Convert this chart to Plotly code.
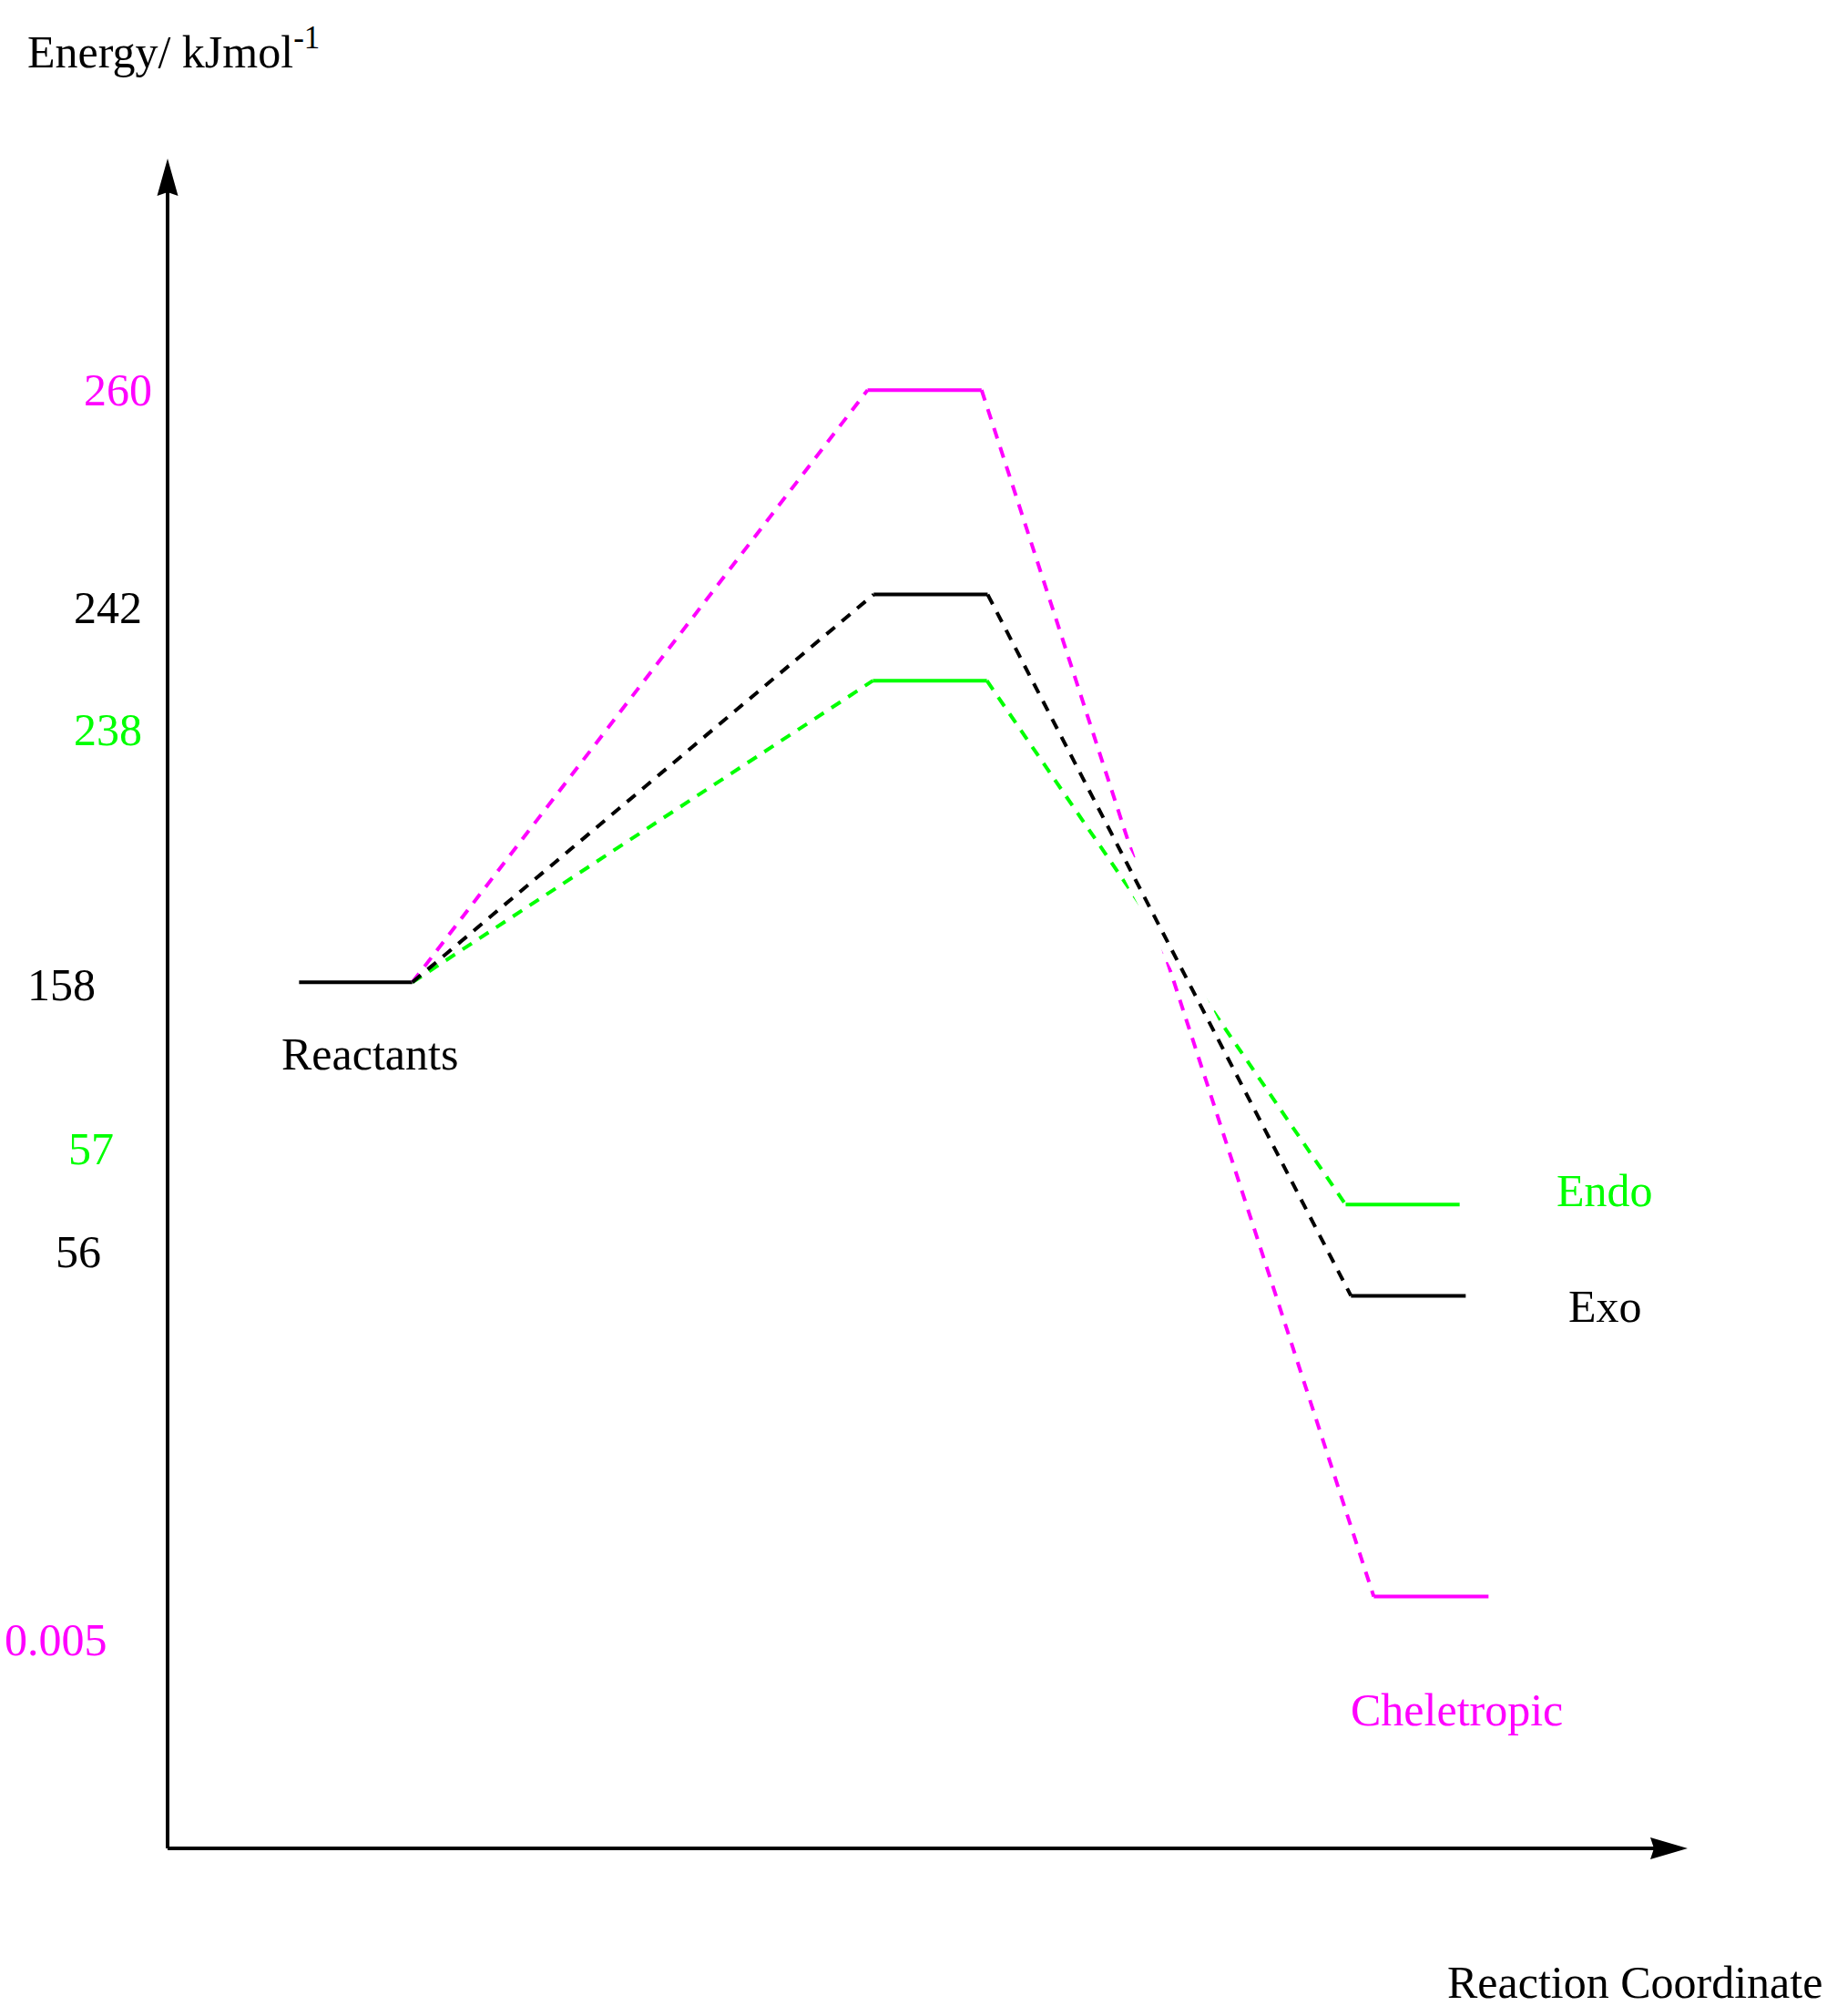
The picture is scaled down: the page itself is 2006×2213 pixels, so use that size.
import plotly.graph_objects as go

# ---------------- data ----------------
pathways = ["Endo", "Exo", "Cheletropic"]
path_colors = ["#00FF00", "#000000", "#FF00FF"]

reactant_name = "Reactants"
reactant_energy = "158"
ts_energy = ["238", "242", "260"]
product_energy = ["57", "56", "0.005"]

# diagram level heights (axis units: 0 = reaction-coordinate axis, 100 = arrow tip)
reactant_level = 51.25
ts_level = [69.1, 74.2, 86.3]
product_level = [38.1, 32.7, 14.9]

# horizontal extents of the levels along the reaction coordinate (0..100)
reactant_x = [8.65, 16.1]
ts_x = [[46.4, 53.9], [46.45, 53.95], [46.05, 53.55]]
product_x = [[77.5, 85.0], [77.85, 85.4], [79.35, 86.9]]

y_title = "Energy/ kJmol<sup>-1</sup>"
x_title = "Reaction Coordinate"

# ---------------- layout / style ----------------
W, H = 2006, 2213
X_RANGE = [-11.025, 109.167]
Y_RANGE = [-9.919, 109.38]
px_x = W / (X_RANGE[1] - X_RANGE[0])   # pixels per x unit
px_y = H / (Y_RANGE[1] - Y_RANGE[0])   # pixels per y unit
FONT = "Liberation Serif, Times New Roman, serif"
FS = 50
LW = 4
DASH = "12px,10px"

# label placement (axis units)
energy_label_pos = {          # (right edge x, centre y)
    "260": (-0.90, 86.3), "242": (-1.56, 73.4), "238": (-1.56, 66.2),
    "158": (-4.61, 51.1), "57": (-3.42, 41.4), "56": (-4.25, 35.3),
    "0.005": (-3.83, 12.35),
}
energy_label_color = {"260": "#FF00FF", "242": "#000000", "238": "#00FF00",
                      "158": "#000000", "57": "#00FF00", "56": "#000000",
                      "0.005": "#FF00FF"}
name_label_pos = {"Reactants": (13.3, 47.0), "Endo": (94.55, 38.9),
                  "Exo": (94.55, 32.1), "Cheletropic": (84.84, 8.2)}

fig = go.Figure()

def seg(xs, ys, color, dash=None, width=LW):
    fig.add_trace(go.Scatter(x=xs, y=ys, mode="lines", hoverinfo="skip",
                             line=dict(color=color, width=width, dash=dash),
                             cliponaxis=False, showlegend=False))

# axes (lines)
seg([0, 0], [0, 98.0], "black")
seg([0, 98.0], [0, 0], "black")

# reactant level
seg(reactant_x, [reactant_level] * 2, "black")

# draw order: green, magenta, then black on top with white knock-out
order = [0, 2, 1]
for i in order:
    c = path_colors[i]
    if i == 1:
        seg([ts_x[i][1], product_x[i][0]], [ts_level[i], product_level[i]],
            "white", width=20)
    # ascending dashed
    seg([reactant_x[1], ts_x[i][0]], [reactant_level, ts_level[i]], c, DASH)
    # TS level
    seg(ts_x[i], [ts_level[i]] * 2, c)
    # descending dashed
    seg([ts_x[i][1], product_x[i][0]], [ts_level[i], product_level[i]], c, DASH)
    # product level
    seg(product_x[i], [product_level[i]] * 2, c)

# arrow heads
hl_y, hw_x, notch_y = 41 / px_y, 11.5 / px_x, 4 / px_y
hl_x, hw_y, notch_x = 41 / px_x, 12 / px_y, 4 / px_x
shapes = [
    dict(type="path", xref="x", yref="y", fillcolor="black", line=dict(width=0),
         path=f"M0,100 L{hw_x},{100 - hl_y} L0,{100 - hl_y + notch_y} L{-hw_x},{100 - hl_y} Z"),
    dict(type="path", xref="x", yref="y", fillcolor="black", line=dict(width=0),
         path=f"M100,0 L{100 - hl_x},{hw_y} L{100 - hl_x + notch_x},0 L{100 - hl_x},{-hw_y} Z"),
]

ann = []
all_energy = [reactant_energy] + ts_energy + product_energy
for e in all_energy:
    x, y = energy_label_pos[e]
    ann.append(dict(x=x, y=y, xref="x", yref="y", text=e, showarrow=False,
                    xanchor="right", yanchor="middle",
                    font=dict(family=FONT, size=FS, color=energy_label_color[e])))
name_colors = {"Reactants": "#000000"}
name_colors.update(dict(zip(pathways, path_colors)))
for n in [reactant_name] + pathways:
    x, y = name_label_pos[n]
    ann.append(dict(x=x, y=y, xref="x", yref="y", text=n, showarrow=False,
                    xanchor="center", yanchor="middle",
                    font=dict(family=FONT, size=FS, color=name_colors[n])))
ann.append(dict(x=-9.35, y=106.5, xref="x", yref="y", text=y_title, showarrow=False,
                xanchor="left", yanchor="middle",
                font=dict(family=FONT, size=FS, color="black")))
ann.append(dict(x=109.0, y=-7.9, xref="x", yref="y", text=x_title, showarrow=False,
                xanchor="right", yanchor="middle",
                font=dict(family=FONT, size=FS, color="black")))

fig.update_layout(
    width=W, height=H, margin=dict(l=0, r=0, t=0, b=0),
    paper_bgcolor="white", plot_bgcolor="white", showlegend=False,
    xaxis=dict(range=X_RANGE, visible=False, fixedrange=True),
    yaxis=dict(range=Y_RANGE, visible=False, fixedrange=True),
    shapes=shapes, annotations=ann,
)

fig.write_html("out.html", config={"displayModeBar": False},
               post_script="document.body.style.margin='0px';document.body.style.overflow='hidden';")
